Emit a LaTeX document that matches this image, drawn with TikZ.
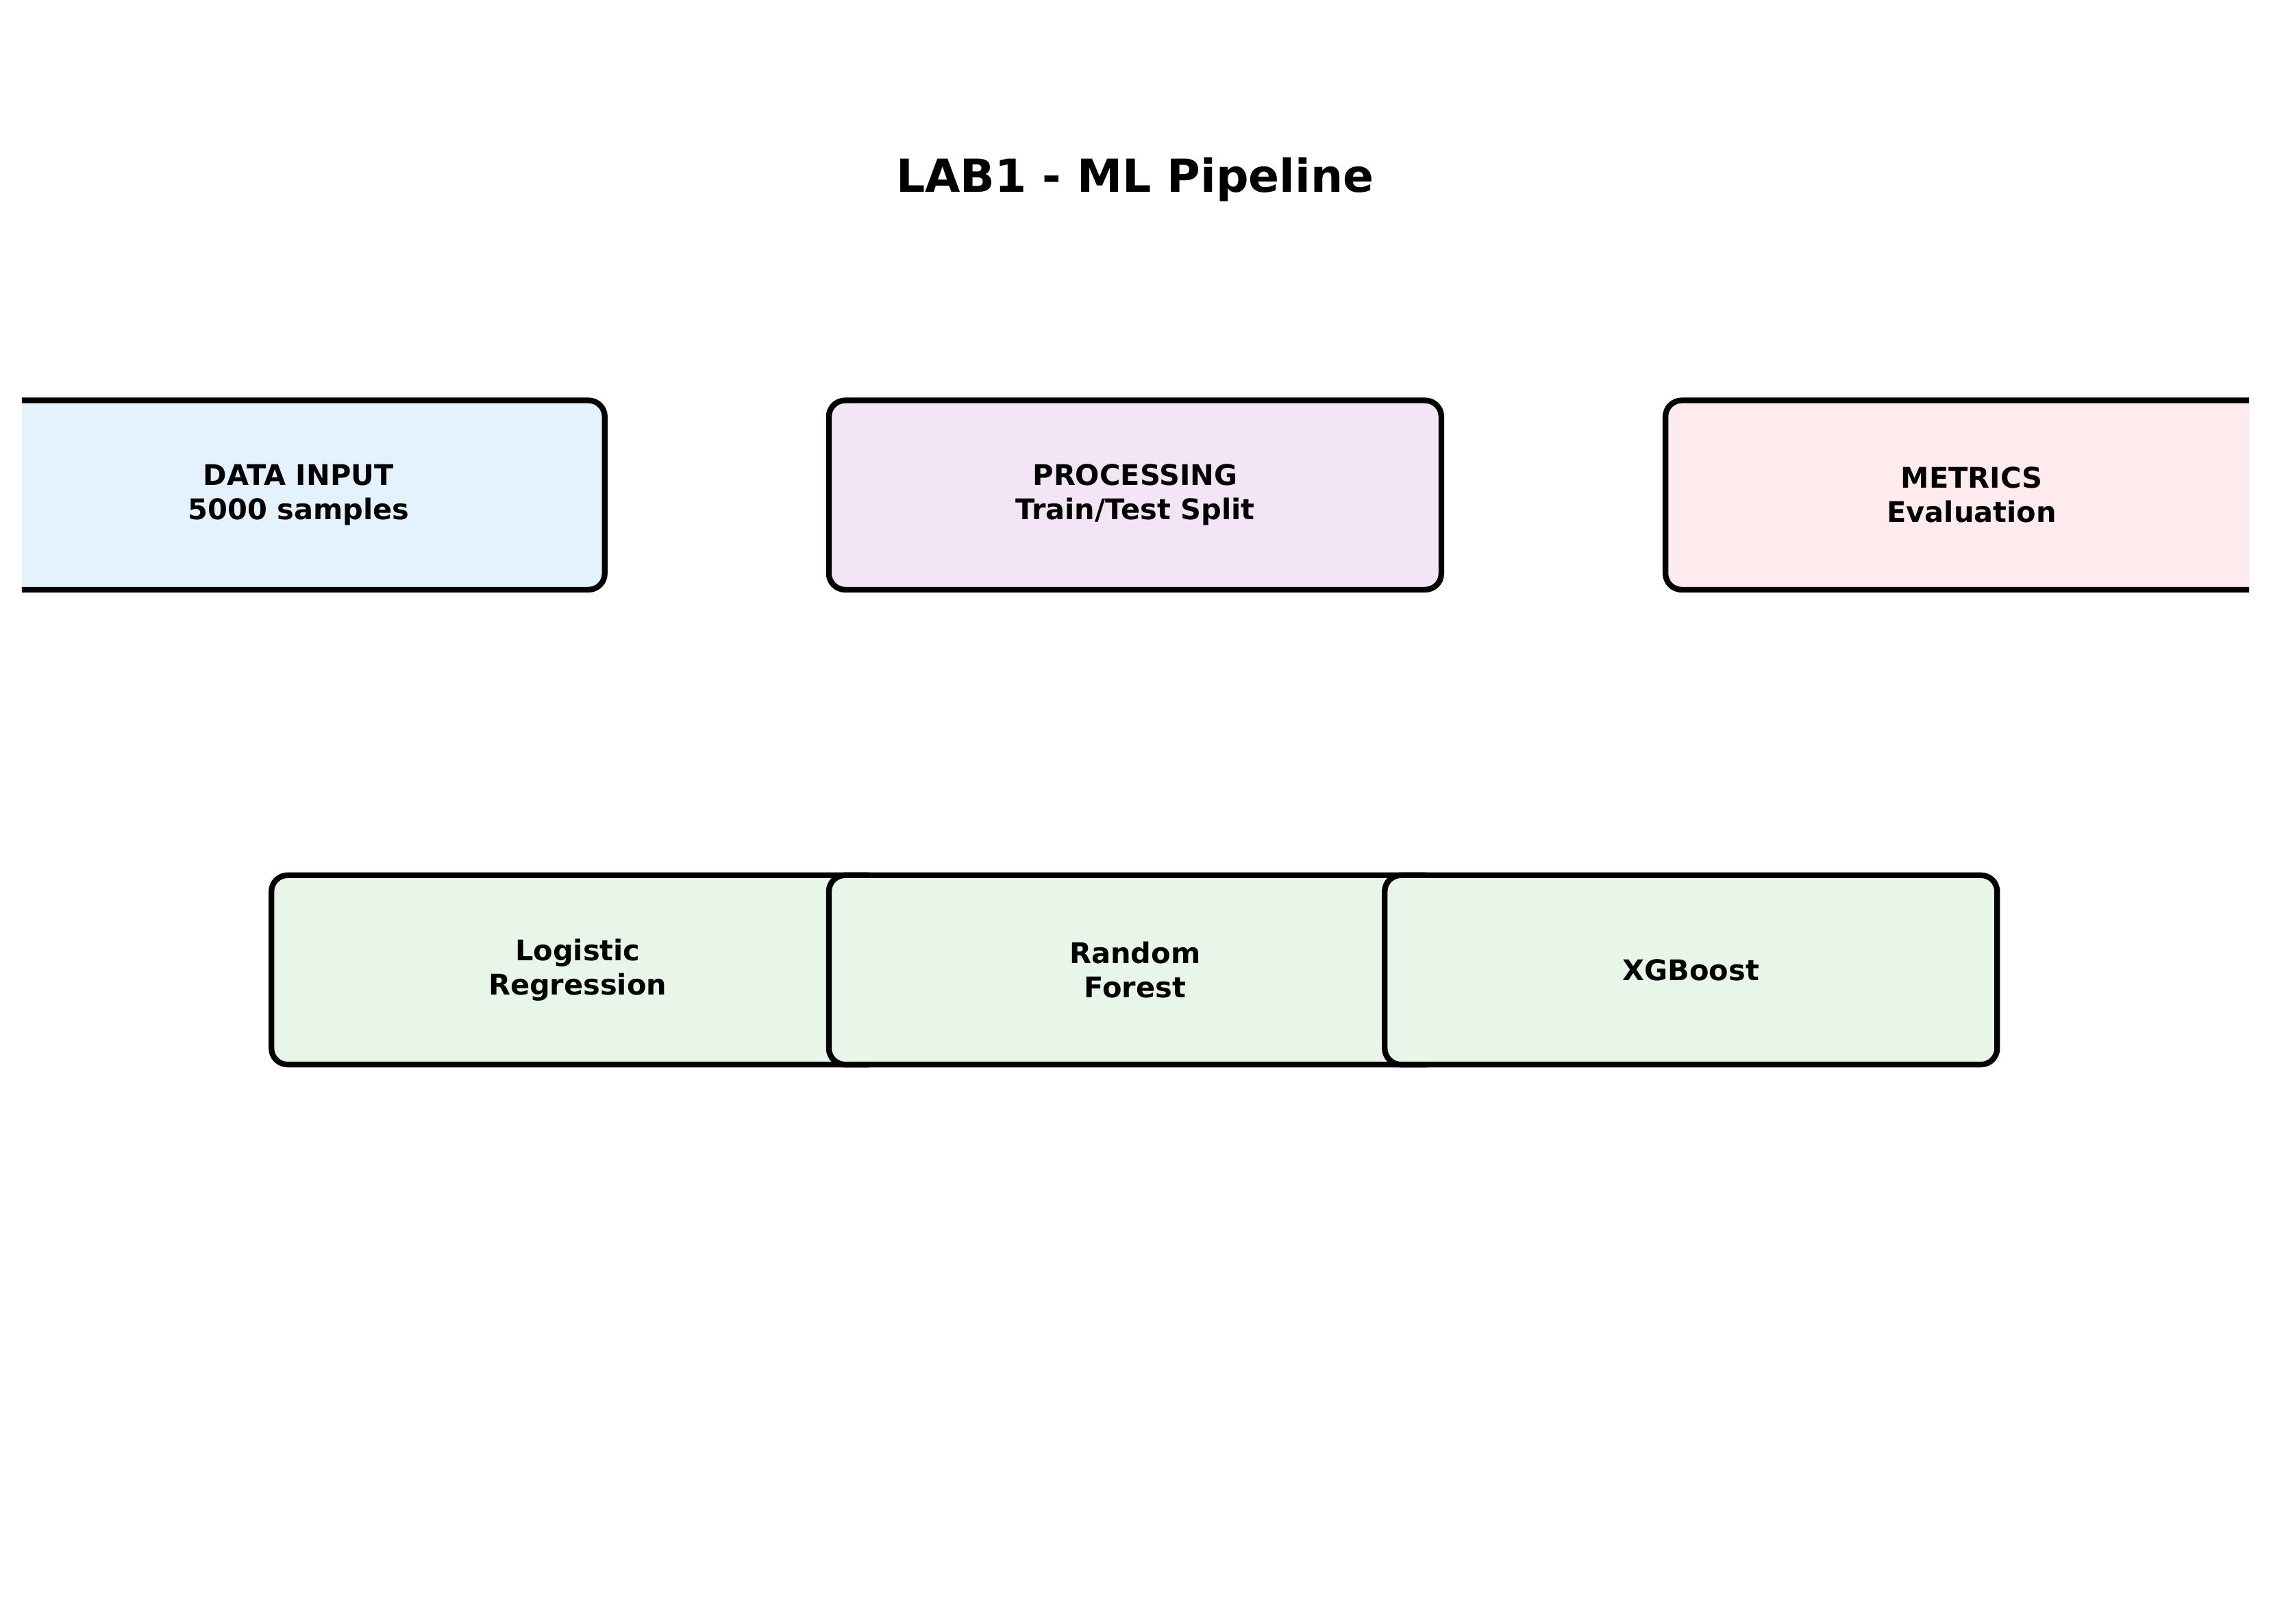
\documentclass[tikz,border=0pt]{standalone}
\usepackage{fontspec}
\setmainfont{DejaVu Sans}
\usepackage{tikz}
\usetikzlibrary{positioning}
\definecolor{inputblue}{HTML}{E3F2FD}
\definecolor{procpurple}{HTML}{F3E5F5}
\definecolor{metricpink}{HTML}{FFEBEE}
\definecolor{modelgreen}{HTML}{E8F5E9}
\tikzstyle{stagebox} = [draw=black, line width=2pt, rectangle, rounded corners=0.2cm, minimum width=7.57cm, minimum height=2.34cm, align=center, font=\fontsize{10}{12}\selectfont\bfseries]
\tikzstyle{colorIn} = [fill=inputblue]
\tikzstyle{colorProc} = [fill=procpurple]
\tikzstyle{colorMet} = [fill=metricpink]
\tikzstyle{colorMod} = [fill=modelgreen]

\begin{document}
\begin{tikzpicture}
  \useasboundingbox (0,0) rectangle (28.07,-20.07);
  \node[font=\fontsize{16}{19}\selectfont\bfseries] (title) at (14.03,-2.22) {LAB1 - ML Pipeline};

  \begin{scope}
    \clip (0.27,0) rectangle (27.80,-20.07);
    % pipeline stages
    \node[stagebox, colorProc] (proc) at (14.03,-6.12) {PROCESSING\\Train/Test Split};
    \node[stagebox, left=2.70cm of proc, colorIn] (data) {DATA INPUT\\5000 samples};
    \node[stagebox, right=2.70cm of proc, colorMet] (metrics) {METRICS\\Evaluation};

    % models
    \node[stagebox, colorMod] (logreg) at (7.14,-11.99) {Logistic\\Regression};
    \node[stagebox, colorMod] (rf) at (proc |- logreg) {Random\\Forest};
    \node[stagebox, colorMod] (xgb) at (20.90,-11.99) {XGBoost};
  \end{scope}
\end{tikzpicture}
\end{document}
